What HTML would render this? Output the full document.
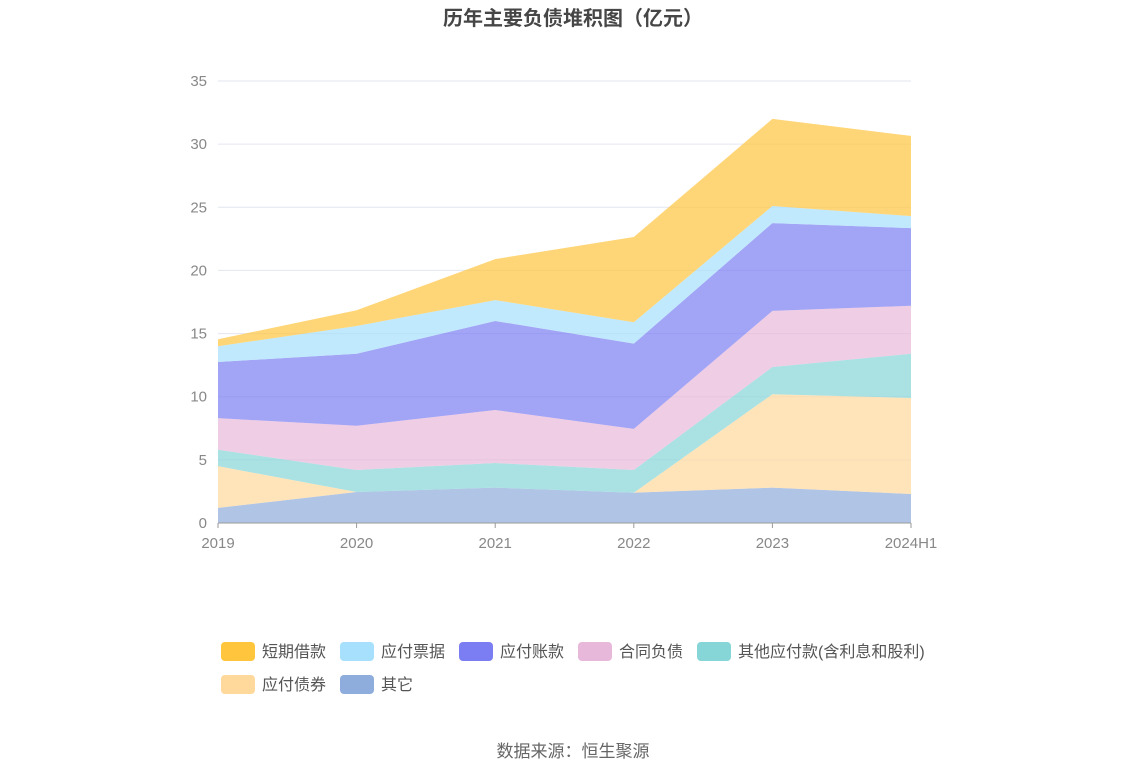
<!DOCTYPE html>
<html><head><meta charset="utf-8"><style>
body{margin:0;background:#fff;font-family:"Liberation Sans","Noto Sans CJK SC",sans-serif;}
</style></head><body>
<svg width="1147" height="776" xmlns="http://www.w3.org/2000/svg" font-family="Liberation Sans, Noto Sans CJK SC, sans-serif">
<text x="573" y="25" text-anchor="middle" font-size="20" font-weight="bold" fill="#464646">历年主要负债堆积图（亿元）</text>
<g id="grid"></g><g id="areas"></g><g id="axes"></g><g id="legend"></g>
<text x="573" y="757" text-anchor="middle" font-size="17" fill="#666">数据来源：恒生聚源</text>
</svg>
<script>
const categories=["2019","2020","2021","2022","2023","2024H1"];
const seriesNames=["其它","应付债券","其他应付款(含利息和股利)","合同负债","应付账款","应付票据","短期借款"];
const other=[1.2,2.45,2.8,2.4,2.8,2.3];
const bonds=[3.3,0,0,0,7.4,7.6];
const otherPayables=[1.3,1.75,1.95,1.8,2.15,3.5];
const contractLiab=[2.5,3.5,4.2,3.25,4.45,3.8];
const accountsPayable=[4.45,5.7,7.05,6.75,6.95,6.15];
const notesPayable=[1.25,2.2,1.65,1.7,1.35,0.95];
const shortLoans=[0.55,1.25,3.25,6.75,6.9,6.35];
const yTicks=[0,5,10,15,20,25,30,35];
const legendOrder=["短期借款","应付票据","应付账款","合同负债","其他应付款(含利息和股利)","应付债券","其它"];
const NS="http://www.w3.org/2000/svg";
const colors={"短期借款":"#ffc53d","应付票据":"#a6e0fc","应付账款":"#7a7ef2","合同负债":"#e8b8da","其他应付款(含利息和股利)":"#86d6d8","应付债券":"#ffd89c","其它":"#8eaddc"};
const data=[other,bonds,otherPayables,contractLiab,accountsPayable,notesPayable,shortLoans];
const x=i=>218+i*(911-218)/(categories.length-1);
const y=v=>523-v*(523-81)/35;
function mk(t,a,p){const e=document.createElementNS(NS,t);for(const k in a)e.setAttribute(k,a[k]);p.appendChild(e);return e;}
const grid=document.getElementById('grid'),axes=document.getElementById('axes'),areas=document.getElementById('areas'),legend=document.getElementById('legend');
yTicks.forEach(t=>{
 if(t>0){const l=mk('line',{x1:218,x2:911,y1:y(t),y2:y(t),stroke:'#e3e6ef','stroke-width':1},grid);
 
 }
 const tx=mk('text',{x:207,y:y(t)+5,'text-anchor':'end','font-size':15,fill:'#888'},axes);tx.textContent=t;
 
 
});
let base=categories.map(()=>0);
data.forEach((s,si)=>{
 const top=base.map((b,i)=>b+s[i]);
 let d='M'+top.map((v,i)=>x(i)+','+y(v)).join(' L');
 for(let i=base.length-1;i>=0;i--)d+=' L'+x(i)+','+y(base[i]);
 const p=mk('path',{d:d+'Z',fill:colors[seriesNames[si]],'fill-opacity':0.7},areas);
 
 
 base=top;
});
const ax=mk('line',{x1:218,x2:911,y1:523,y2:523,stroke:'#999'},axes);


categories.forEach((c,i)=>{
 mk('line',{x1:x(i),x2:x(i),y1:523,y2:528,stroke:'#999'},axes);
 const t=mk('text',{x:x(i),y:548,'text-anchor':'middle','font-size':15,fill:'#888'},axes);t.textContent=c;
 
 
});
legendOrder.forEach((n,i)=>{
 const row=i<5?0:1,col=i<5?i:i-5;
 const lx=221+col*119,ly=642+row*33;
 const g=mk('g',{},legend);
 
 
 mk('rect',{x:lx,y:ly,width:34,height:19,rx:4,fill:colors[n]},g);
 const t=mk('text',{x:lx+41,y:ly+15,'font-size':16,fill:'#555'},g);t.textContent=n;
});
</script>
</body></html>
